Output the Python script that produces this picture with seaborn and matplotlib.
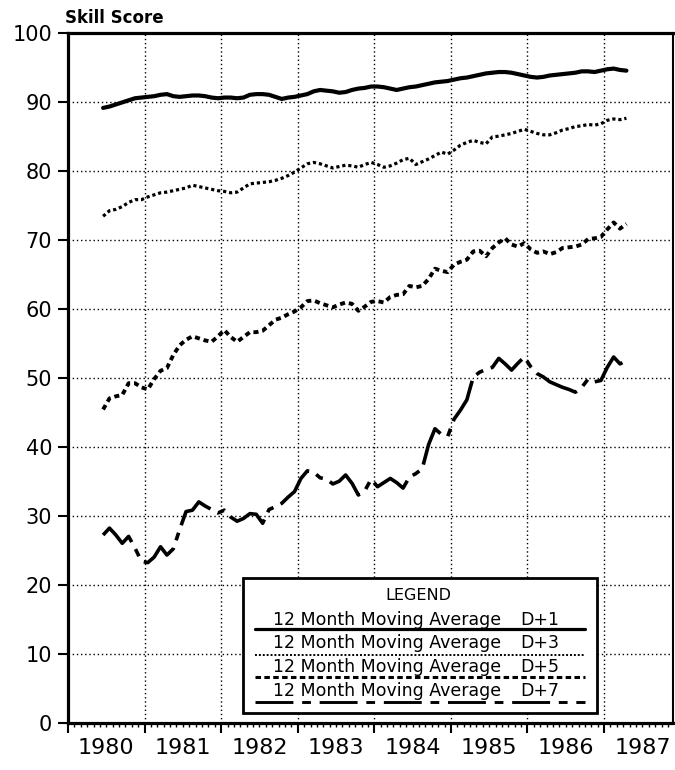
import numpy as np
import pandas as pd
import matplotlib
matplotlib.use("Agg")
import matplotlib.pyplot as plt
from matplotlib.ticker import FixedLocator, FuncFormatter, NullFormatter
from matplotlib.patches import Rectangle
import seaborn as sns

# Monthly 12-month moving average skill scores, Jun 1980 - Apr 1987
months = pd.period_range("1980-06", "1987-04", freq="M")

d1 = [89.1, 89.3, 89.6, 89.9, 90.2, 90.5, 90.6,
      90.7, 90.8, 91.0, 91.1, 90.8, 90.7, 90.8, 90.9, 90.9, 90.8, 90.6, 90.5,
      90.6, 90.6, 90.5, 90.6, 91.0, 91.1, 91.1, 91.0, 90.7, 90.4, 90.6, 90.7,
      90.9, 91.1, 91.5, 91.7, 91.6, 91.5, 91.3, 91.4, 91.7, 91.9, 92.0, 92.2,
      92.2, 92.1, 91.9, 91.7, 91.9, 92.1, 92.2, 92.4, 92.6, 92.8, 92.9, 93.0,
      93.2, 93.4, 93.5, 93.7, 93.9, 94.1, 94.2, 94.3, 94.3, 94.2, 94.0, 93.8,
      93.6, 93.5, 93.6, 93.8, 93.9, 94.0, 94.1, 94.2, 94.4, 94.4, 94.3, 94.5,
      94.7, 94.8, 94.6, 94.5]

d3 = [73.4, 74.2, 74.4, 74.8, 75.4, 75.8, 75.8,
      76.2, 76.5, 76.8, 76.9, 77.1, 77.3, 77.5, 77.9, 77.7, 77.5, 77.3, 77.1,
      77.0, 76.8, 76.9, 77.5, 78.1, 78.2, 78.3, 78.4, 78.6, 78.9, 79.3, 79.8,
      80.4, 81.0, 81.2, 81.0, 80.7, 80.4, 80.6, 80.8, 80.7, 80.5, 80.9, 81.2,
      80.9, 80.5, 80.7, 81.1, 81.6, 81.8, 80.9, 81.3, 81.7, 82.2, 82.7, 82.4,
      83.0, 83.7, 84.1, 84.4, 84.1, 83.9, 84.9, 85.0, 85.2, 85.4, 85.7, 86.0,
      85.7, 85.4, 85.2, 85.2, 85.5, 85.9, 86.1, 86.4, 86.5, 86.7, 86.6, 86.8,
      87.3, 87.5, 87.4, 87.6]

d5 = [45.4, 47.0, 47.3, 47.5, 49.2, 49.2, 48.6,
      48.3, 49.8, 51.0, 51.4, 53.3, 54.7, 55.5, 56.0, 55.7, 55.4, 55.2, 56.0,
      56.9, 55.9, 55.2, 55.9, 56.6, 56.6, 56.8, 57.6, 58.4, 58.7, 59.2, 59.6,
      60.2, 61.1, 61.2, 60.8, 60.5, 60.2, 60.6, 60.9, 60.7, 59.7, 60.3, 61.0,
      61.1, 60.9, 61.7, 62.0, 62.1, 63.3, 63.1, 63.3, 64.3, 65.8, 65.5, 65.3,
      66.4, 66.8, 67.1, 68.3, 68.4, 67.6, 68.8, 69.6, 70.2, 69.3, 69.0, 69.5,
      68.6, 68.1, 68.3, 67.9, 68.2, 68.8, 68.9, 69.0, 69.3, 70.1, 70.2, 70.4,
      71.5, 72.5, 71.6, 72.3]

d7 = [27.2, 28.2, 27.2, 26.0, 27.0, 25.3, 23.4,
      23.2, 24.0, 25.5, 24.3, 25.2, 28.0, 30.6, 30.8, 32.0, 31.4, 30.9, 30.4,
      30.8, 29.8, 29.2, 29.6, 30.3, 30.2, 28.9, 30.9, 31.3, 31.8, 32.7, 33.5,
      35.4, 36.5, 36.3, 35.5, 35.3, 34.6, 35.0, 35.9, 34.7, 33.0, 33.6, 35.3,
      34.2, 34.8, 35.4, 34.8, 34.0, 35.6, 36.1, 36.8, 40.3, 42.6, 41.8, 41.5,
      44.0, 45.3, 46.8, 50.1, 50.8, 51.2, 51.5, 52.8, 52.0, 51.1, 52.1, 53.0,
      51.6, 50.6, 50.1, 49.4, 49.0, 48.6, 48.3, 47.9, 48.6, 49.8, 49.4, 49.6,
      51.5, 53.0, 52.0, 52.5]

series_names = ["D+1", "D+3", "D+5", "D+7"]
legend_label = "12 Month Moving Average"
year_labels = ["1980", "1981", "1982", "1983", "1984", "1985", "1986", "1987"]
y_ticks = [0, 10, 20, 30, 40, 50, 60, 70, 80, 90, 100]

# Long-form table: decimal year at mid-month
t = months.year.values + (months.month.values - 0.5) / 12.0
df = pd.DataFrame({
    "time": np.tile(t, 4),
    "score": d1 + d3 + d5 + d7,
    "series": np.repeat(series_names, len(t)),
})

sns.set_theme(style="white", rc={"text.color": "black", "xtick.color": "black",
                                 "ytick.color": "black", "axes.labelcolor": "black",
                                 "axes.edgecolor": "black"})
plt.rcParams["font.family"] = ["DejaVu Sans"]

# line appearance per forecast range (plot body)
line_widths = {"D+1": 3.0, "D+3": 2.3, "D+5": 2.8, "D+7": 2.6}
line_dashes = {"D+1": "", "D+3": (1.0, 0.9), "D+5": (1.3, 1.0),
               "D+7": (12.5, 2.2, 2.2, 2.2)}
# line appearance in the legend panel
key_widths = {"D+1": 2.3, "D+3": 1.4, "D+5": 2.2, "D+7": 2.1}
key_dashes = {"D+1": "-", "D+3": (0, (1.0, 1.0)), "D+5": (0, (1.8, 1.1)),
              "D+7": (0, (13, 3, 3, 3))}

fig = plt.figure(figsize=(6.75, 7.7), dpi=100)
ax = fig.add_axes([68 / 675, 1 - 722.7 / 770, 605 / 675, 690 / 770])

sns.lineplot(data=df, x="time", y="score", style="series", size="series",
             dashes=line_dashes, sizes=line_widths, color="black",
             estimator=None, errorbar=None, legend=False, ax=ax, zorder=3)
for ln in ax.lines:
    ln.set_dash_capstyle("butt")
    ln.set_solid_capstyle("round")
    ln.set_solid_joinstyle("round")

ax.set_xlim(1980, 1987.9)
ax.set_ylim(0, 100)
ax.set_xlabel("")
ax.set_ylabel("")

# year boundaries as major ticks, months as minor ticks; year names sit mid-year
ax.xaxis.set_major_locator(FixedLocator(list(range(1980, 1988))))
ax.xaxis.set_major_formatter(NullFormatter())
minor_pos = [1980 + k / 12 for k in range(1, 95) if k % 12 != 0]
ax.xaxis.set_minor_locator(FixedLocator(minor_pos))


def year_name(v, pos):
    frac = v - np.floor(v)
    idx = int(np.floor(v)) - 1980
    if abs(frac - 0.5) < 1e-6 and 0 <= idx < len(year_labels):
        return year_labels[idx]
    return ""


ax.xaxis.set_minor_formatter(FuncFormatter(year_name))
ax.yaxis.set_major_locator(FixedLocator(y_ticks))
ax.set_yticklabels([str(v) for v in y_ticks])

ax.tick_params(axis="x", which="major", direction="out", length=7.5, width=1.5,
               color="black", bottom=True)
ax.tick_params(axis="x", which="minor", direction="out", length=3.0, width=1.0,
               color="black", labelsize=16, pad=8, bottom=True, labelcolor="black")
ax.tick_params(axis="y", which="major", direction="out", length=7.5, width=1.5,
               color="black", labelsize=15, pad=4, left=True, labelcolor="black")

ax.grid(True, which="major", axis="both", color="black", linewidth=1.0,
        linestyle=(0, (1, 2)))
ax.set_axisbelow(True)

for side in ["left", "bottom", "top"]:
    ax.spines[side].set_linewidth(2.3)
    ax.spines[side].set_color("black")
ax.spines["right"].set_linewidth(1.5)
ax.spines["right"].set_color("black")

fig.text(65 / 675, 1 - 23 / 770, "Skill Score", ha="left", va="baseline",
         fontsize=12, fontweight="bold", color="black")

# legend panel
box = Rectangle((0.289, 0.014), 0.585, 0.196, transform=ax.transAxes,
                facecolor="white", edgecolor="black", linewidth=2.0, zorder=5)
ax.add_patch(box)
ax.text(0.5785, 0.185, "LEGEND", transform=ax.transAxes, ha="center",
        va="center", fontsize=11.5, color="black", zorder=6)
text_y = [0.149, 0.1155, 0.0807, 0.046]
line_y = [0.1357, 0.098, 0.0662, 0.030]
for name, ty, ly in zip(series_names, text_y, line_y):
    ax.text(0.339, ty, legend_label, transform=ax.transAxes, ha="left",
            va="center", fontsize=12.5, color="black", zorder=6)
    ax.text(0.747, ty, name, transform=ax.transAxes, ha="left",
            va="center", fontsize=12.5, color="black", zorder=6)
    ax.plot([0.309, 0.8545], [ly, ly], transform=ax.transAxes, color="black",
            linewidth=key_widths[name], linestyle=key_dashes[name],
            dash_capstyle="butt", zorder=6, clip_on=False)

fig.savefig("out.png", dpi=100)
